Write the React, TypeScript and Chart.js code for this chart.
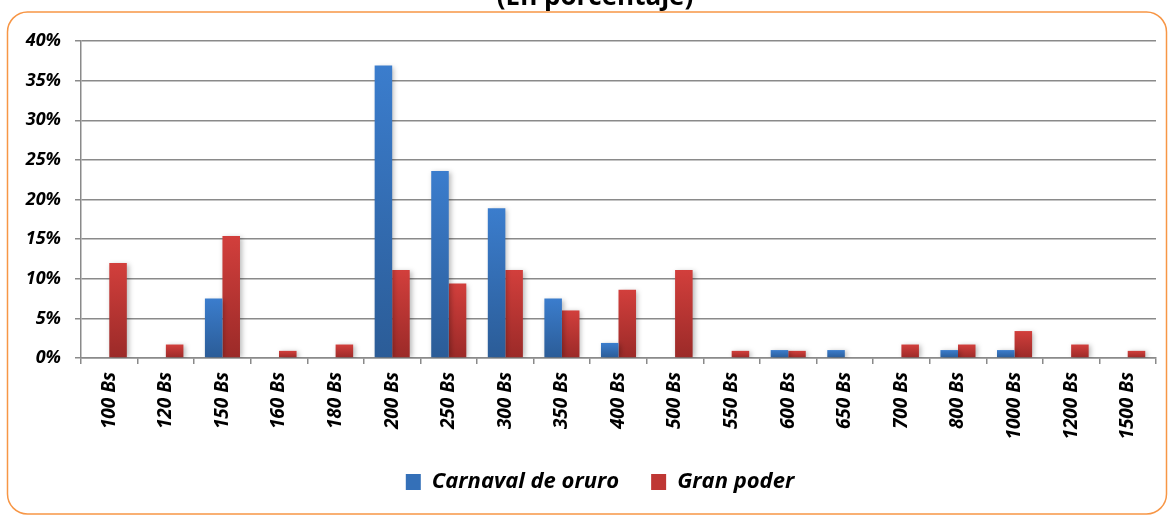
import React, { useEffect, useRef } from "react";
import { Chart, registerables } from "chart.js";

Chart.register(...registerables);

const categories = [
  "100 Bs", "120 Bs", "150 Bs", "160 Bs", "180 Bs", "200 Bs", "250 Bs", "300 Bs", "350 Bs", "400 Bs",
  "500 Bs", "550 Bs", "600 Bs", "650 Bs", "700 Bs", "800 Bs", "1000 Bs", "1200 Bs", "1500 Bs",
];
const carnavalValues = [null, null, 7.5, null, null, 36.9, 23.6, 18.9, 7.5, 1.9, null, null, 1.0, 1.0, null, 1.0, 1.0, null, null];
const granPoderValues = [12.0, 1.7, 15.4, 0.9, 1.7, 11.1, 9.4, 11.1, 6.0, 8.6, 11.1, 0.9, 0.9, null, 1.7, 1.7, 3.4, 1.7, 0.9];
const seriesNames = ["Carnaval de oruro", "Gran poder"];
const titleText = "(En porcentaje)";
const yMin = 0;
const yMax = 40;
const yStep = 5;

const FONT = "'Open Sans', 'Noto Sans', sans-serif";

function barGradient(top: string, bottom: string) {
  return (ctx: any) => {
    const chart = ctx.chart;
    const y = chart.scales && chart.scales.y;
    if (!chart.chartArea || !y || ctx.raw == null || ctx.type !== "data") return top;
    const yTop = y.getPixelForValue(ctx.raw);
    const yBase = y.getPixelForValue(0);
    if (!isFinite(yTop) || !isFinite(yBase) || yBase - yTop < 1) return top;
    const g = chart.ctx.createLinearGradient(0, yTop, 0, yBase);
    g.addColorStop(0, top);
    g.addColorStop(1, bottom);
    return g;
  };
}

const shadowPlugin = {
  id: "barShadow",
  beforeDatasetsDraw(chart: any) {
    const c = chart.ctx;
    c.save();
    c.shadowColor = "rgba(0,0,0,0.28)";
    c.shadowBlur = 5;
    c.shadowOffsetX = 2;
    c.shadowOffsetY = 1;
  },
  afterDatasetsDraw(chart: any) {
    chart.ctx.restore();
  },
};

const framePlugin = {
  id: "frameTitle",
  afterDraw(chart: any) {
    const c = chart.ctx;
    c.save();
    c.strokeStyle = "#f79646";
    c.lineWidth = 1.5;
    c.beginPath();
    (c as any).roundRect(7.5, 12, 1159, 502, 20);
    c.stroke();
    c.fillStyle = "#000";
    c.font = `bold 26px ${FONT}`;
    c.textAlign = "center";
    c.textBaseline = "alphabetic";
    c.fillText(titleText, 595, 5);
    c.restore();
  },
};

export default function App() {
  const ref = useRef<HTMLCanvasElement | null>(null);
  useEffect(() => {
    if (!ref.current) return;
    const chart = new Chart(ref.current, {
      type: "bar",
      data: {
        labels: categories,
        datasets: [
          {
            label: seriesNames[0],
            data: carnavalValues as any,
            backgroundColor: barGradient("#3b7dcd", "#2b5c97") as any,
            categoryPercentage: 0.62,
            barPercentage: 1.0,
          },
          {
            label: seriesNames[1],
            data: granPoderValues as any,
            backgroundColor: barGradient("#d23f3c", "#9b2a28") as any,
            categoryPercentage: 0.62,
            barPercentage: 1.0,
          },
        ],
      },
      options: {
        responsive: true,
        maintainAspectRatio: false,
        animation: false,
        layout: { padding: { left: 0, right: -30, top: 41, bottom: 12 } },
        plugins: {
          title: { display: false },
          tooltip: { enabled: false },
          legend: {
            position: "bottom",
            labels: {
              boxWidth: 15,
              boxHeight: 16,
              padding: 32,
              color: "#000",
              font: { family: FONT, size: 22, weight: "bold", style: "italic" },
              generateLabels: (chart: any) => {
                const cols = ["#3470b8", "#bf3734"];
                return chart.data.datasets.map((ds: any, i: number) => ({
                  text: ds.label,
                  fillStyle: cols[i],
                  strokeStyle: cols[i],
                  lineWidth: 0,
                  hidden: false,
                  datasetIndex: i,
                  fontColor: "#000",
                }));
              },
            },
          },
        },
        scales: {
          x: {
            afterFit: (s: any) => {
              s.height = 81;
            },
            grid: {
              display: true,
              drawOnChartArea: false,
              drawTicks: true,
              tickLength: 6,
              color: "#8a8a8a",
              lineWidth: 1.5,
              offset: true,
            },
            border: { display: true, color: "#8a8a8a", width: 1.5 },
            ticks: {
              autoSkip: false,
              minRotation: 90,
              maxRotation: 90,
              padding: 8,
              color: "#000",
              font: { family: FONT, size: 19, weight: "bold", style: "italic" },
            },
          },
          y: {
            min: yMin,
            max: yMax,
            afterFit: (s: any) => {
              s.width = 81;
            },
            grid: {
              color: "#8a8a8a",
              lineWidth: 1.5,
              drawTicks: true,
              tickLength: 6,
            },
            border: { display: true, color: "#8a8a8a", width: 1.5 },
            ticks: {
              stepSize: yStep,
              padding: 14,
              color: "#000",
              font: { family: FONT, size: 18, weight: "bold", style: "italic" },
              callback: (v: any) => `${v}%`,
            },
          },
          ySpacer: {
            type: "linear",
            position: "right",
            display: true,
            afterFit: (s: any) => {
              s.width = 44;
            },
            grid: { display: false, drawTicks: false },
            border: { display: false },
            ticks: { display: false },
          },
        },
      },
      plugins: [shadowPlugin, framePlugin],
    });
    return () => chart.destroy();
  }, []);
  return (
    <div style={{ position: "fixed", left: 0, top: 0, width: 1170, height: 515, background: "#fff" }}>
      <canvas ref={ref} />
    </div>
  );
}
